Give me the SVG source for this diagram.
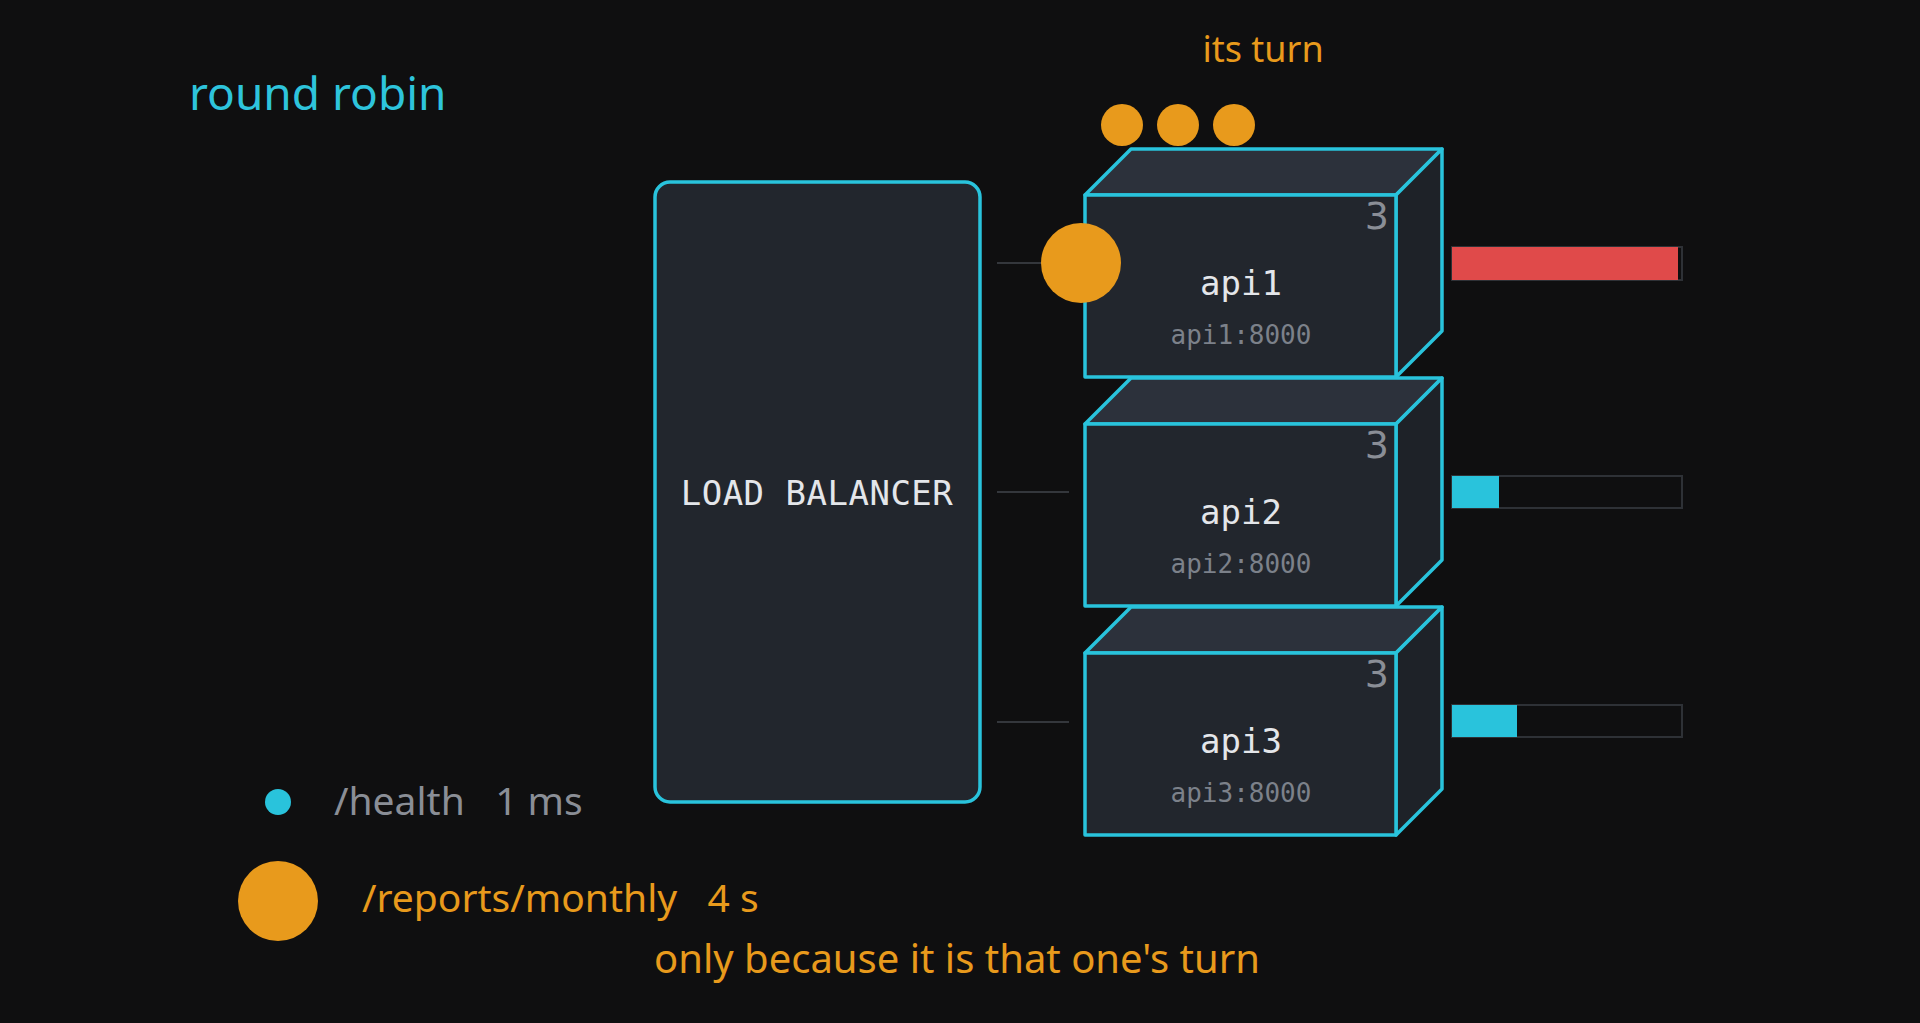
<svg xmlns="http://www.w3.org/2000/svg" width="1920" height="1023" viewBox="0 0 1920 1023">
<style>
.face{fill:#22262d;stroke:#29c3dc;stroke-width:3.5;stroke-linejoin:round}
.top{fill:#2c313b;stroke:#29c3dc;stroke-width:3.5;stroke-linejoin:round}
.side{fill:#1e2228;stroke:#29c3dc;stroke-width:3.5;stroke-linejoin:round}
.name{font-family:"DejaVu Sans Mono",monospace;font-size:34px;fill:#e4e6ea;text-anchor:middle}
.addr{font-family:"DejaVu Sans Mono",monospace;font-size:26px;fill:#7c818a;text-anchor:middle}
.cnt{font-family:"DejaVu Sans",sans-serif;font-size:38px;fill:#8a8e96;text-anchor:end}
.lbl{font-family:"Noto Sans",sans-serif}
.bar{fill:none;stroke:#2e3136;stroke-width:2}
.conn{stroke:#34373c;stroke-width:2}
</style>
<rect width="1920" height="1023" fill="#0f0f10"/>
<text class="lbl" x="189" y="110" font-size="46" fill="#2ec4dc">round robin</text>
<text class="lbl" x="1263" y="62" font-size="36" fill="#e89a1c" text-anchor="middle">its turn</text>
<g id="connectors">
<line class="conn" x1="997" y1="263" x2="1069" y2="263"/>
<line class="conn" x1="997" y1="492" x2="1069" y2="492"/>
<line class="conn" x1="997" y1="722" x2="1069" y2="722"/>
</g>
<g id="lb">
<rect x="655" y="182" width="325" height="620" rx="15" fill="#22262d" stroke="#29c3dc" stroke-width="3.5"/>
<text x="817" y="505" font-family="DejaVu Sans Mono,monospace" font-size="34" fill="#e4e6ea" text-anchor="middle" letter-spacing="0.5">LOAD BALANCER</text>
</g>
<g id="api1">
<polygon class="top" points="1085,195 1131,149 1442,149 1396,195"/>
<polygon class="side" points="1396,195 1442,149 1442,331 1396,377"/>
<rect class="face" x="1085" y="195" width="311" height="182"/>
<text class="cnt" x="1389" y="229">3</text>
<text class="name" x="1241" y="295">api1</text>
<text class="addr" x="1241" y="344">api1:8000</text>
</g>
<g id="api2">
<polygon class="top" points="1085,424 1131,378 1442,378 1396,424"/>
<polygon class="side" points="1396,424 1442,378 1442,560 1396,606"/>
<rect class="face" x="1085" y="424" width="311" height="182"/>
<text class="cnt" x="1389" y="458">3</text>
<text class="name" x="1241" y="524">api2</text>
<text class="addr" x="1241" y="573">api2:8000</text>
</g>
<g id="api3">
<polygon class="top" points="1085,653 1131,607 1442,607 1396,653"/>
<polygon class="side" points="1396,653 1442,607 1442,789 1396,835"/>
<rect class="face" x="1085" y="653" width="311" height="182"/>
<text class="cnt" x="1389" y="687">3</text>
<text class="name" x="1241" y="753">api3</text>
<text class="addr" x="1241" y="802">api3:8000</text>
</g>
<g id="bars">
<rect class="bar" x="1452" y="247" width="230" height="33"/>
<rect x="1452" y="247" width="226" height="33" fill="#e04a4a"/>
<rect class="bar" x="1452" y="476" width="230" height="32"/>
<rect x="1452" y="476" width="47" height="32" fill="#29c3dc"/>
<rect class="bar" x="1452" y="705" width="230" height="32"/>
<rect x="1452" y="705" width="65" height="32" fill="#29c3dc"/>
</g>
<g id="requests" fill="#e89a1c">
<circle cx="1122" cy="125" r="21"/>
<circle cx="1178" cy="125" r="21"/>
<circle cx="1234" cy="125" r="21"/>
<circle cx="1081" cy="263" r="40"/>
</g>
<g id="legend">
<circle cx="278" cy="802" r="13" fill="#29c3dc"/>
<text class="lbl" x="334" y="815" font-size="39" fill="#8a8e96" xml:space="preserve">/health   1 ms</text>
<circle cx="278" cy="901" r="40" fill="#e89a1c"/>
<text class="lbl" x="362" y="912" font-size="39" fill="#e89a1c" xml:space="preserve">/reports/monthly   4 s</text>
<text class="lbl" x="654" y="973" font-size="40" fill="#e89a1c">only because it is that one's turn</text>
</g>
</svg>
